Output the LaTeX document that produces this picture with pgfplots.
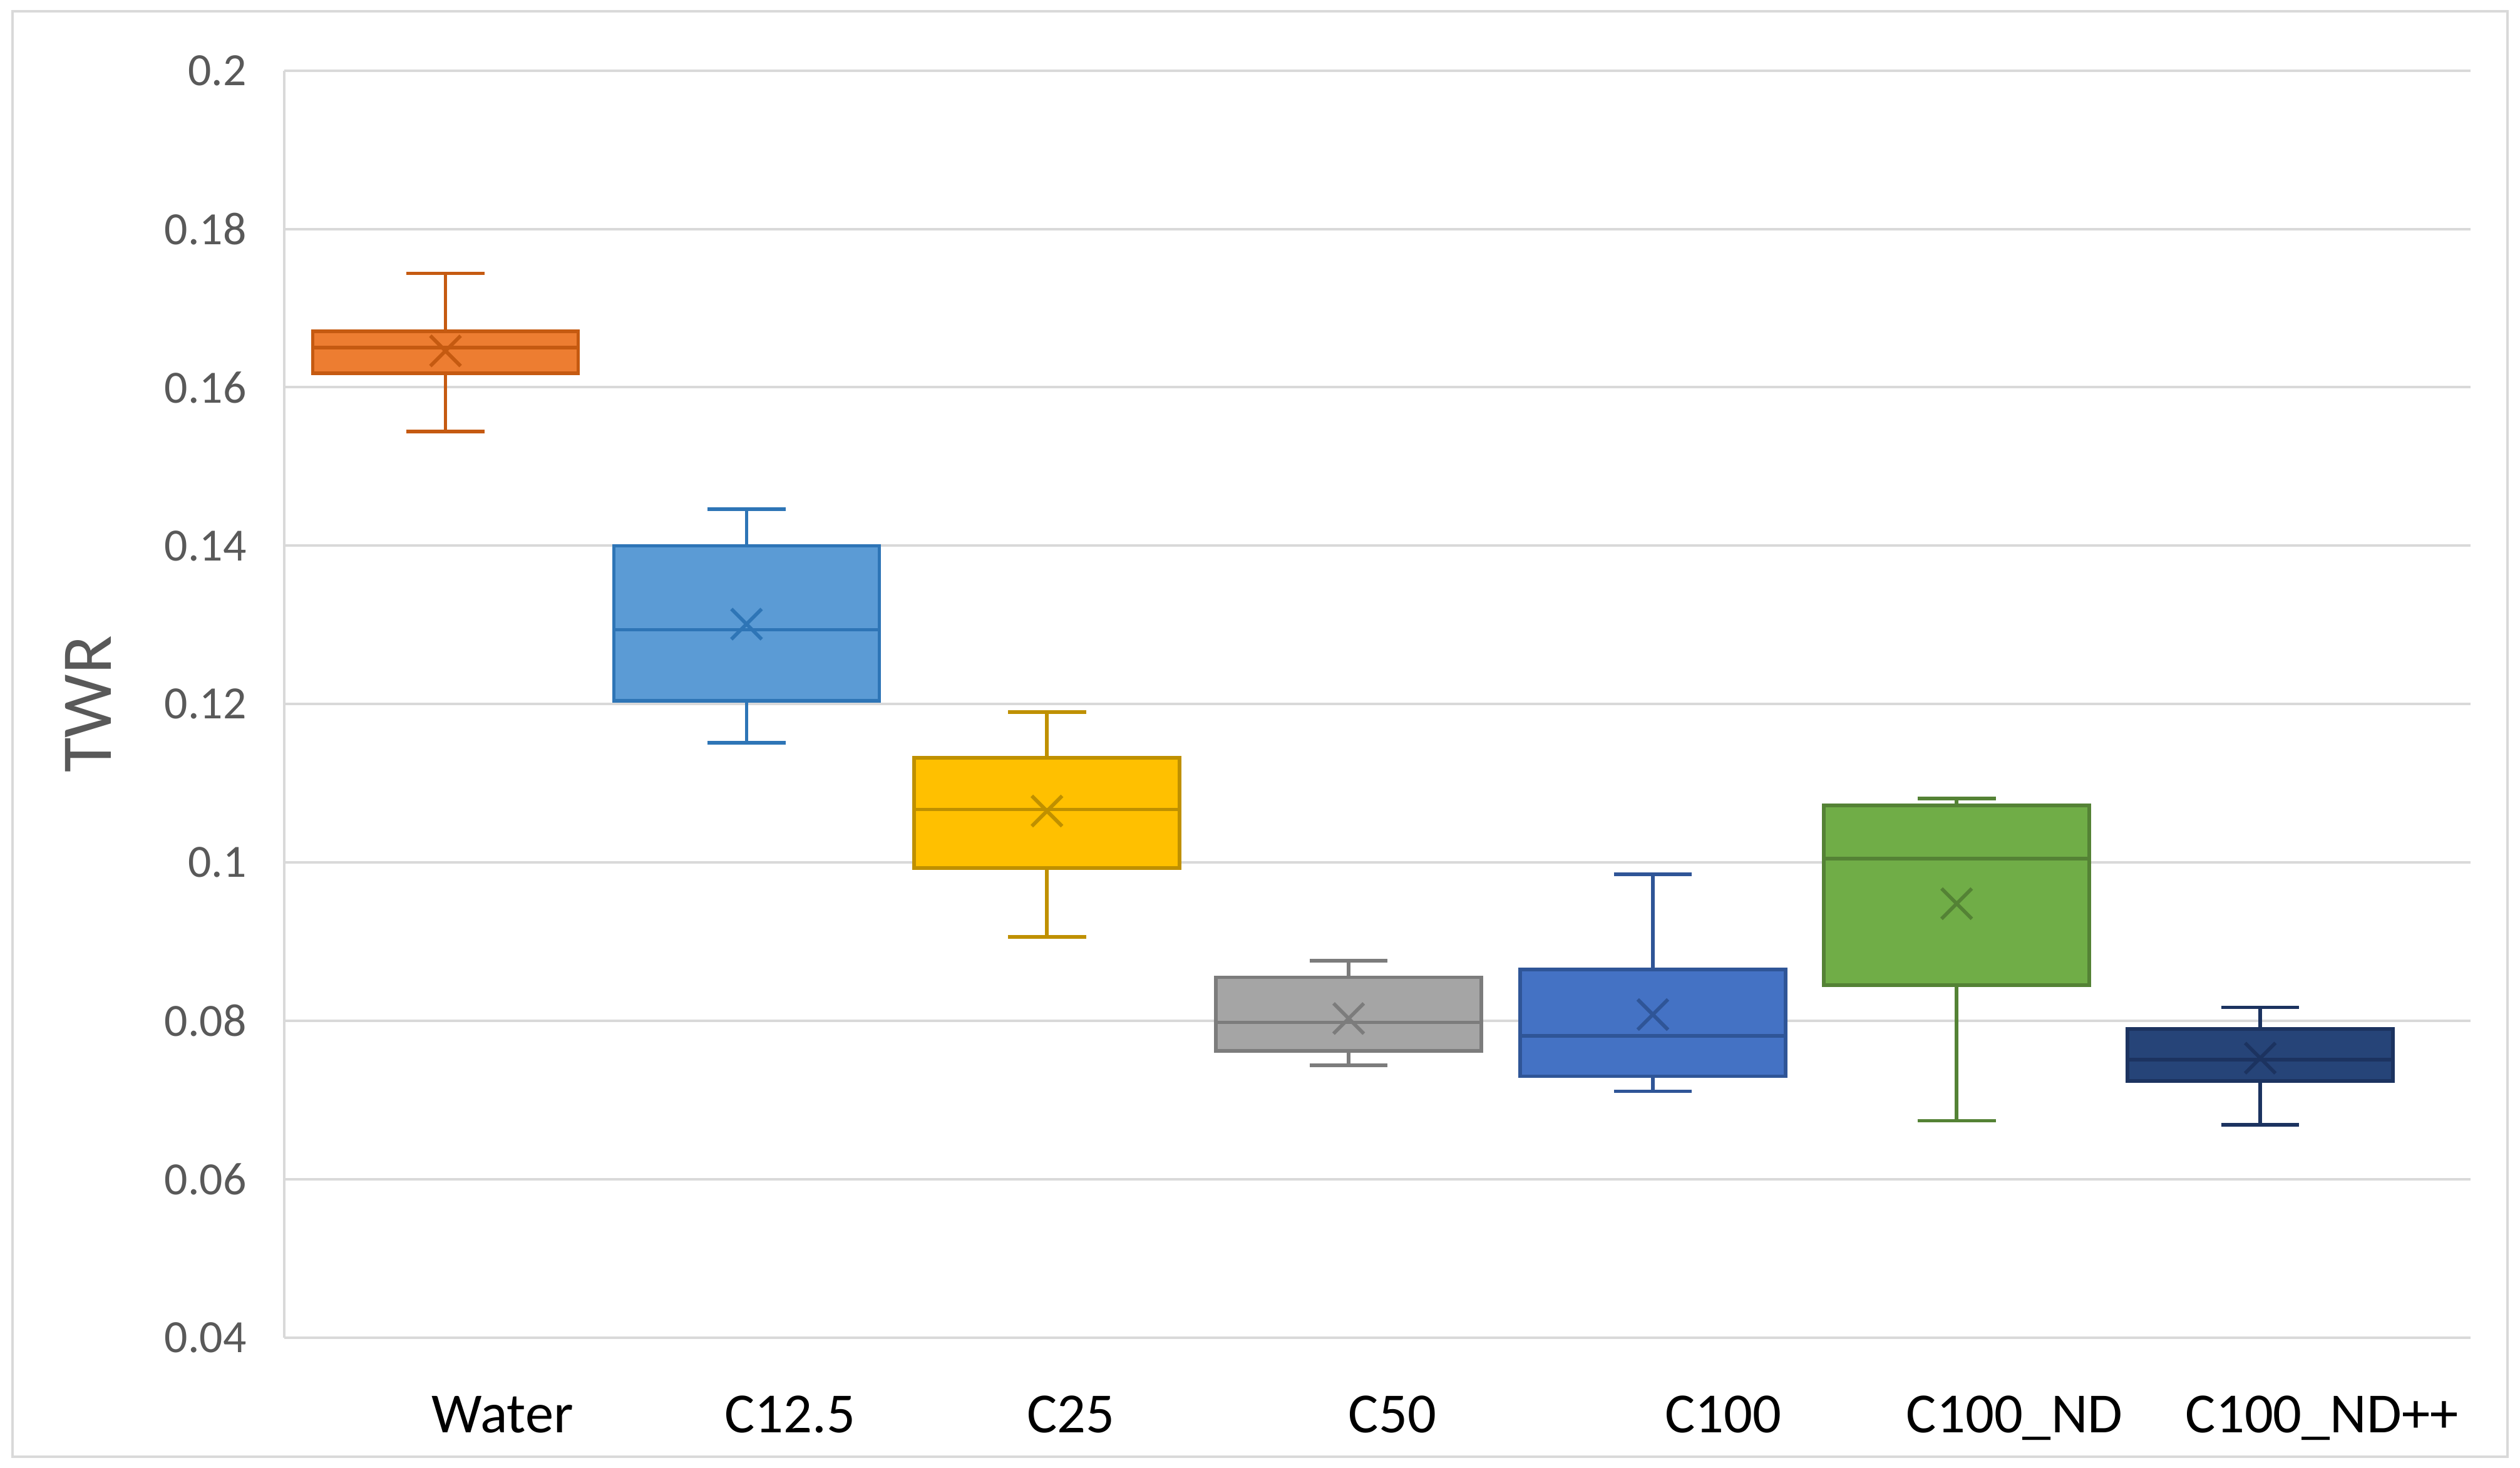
\documentclass[border=0pt]{standalone}
\usepackage{pgfplots}
\pgfplotsset{compat=1.18}
\usepgfplotslibrary{statistics}
\usepackage{fontspec}
\setmainfont{Carlito}
\definecolor{gridc}{HTML}{D9D9D9}
\definecolor{tickc}{HTML}{595959}
\definecolor{fA}{HTML}{ED7D31}\definecolor{bA}{HTML}{C55A11}
\definecolor{fB}{HTML}{5B9BD5}\definecolor{bB}{HTML}{2E75B6}
\definecolor{fC}{HTML}{FFC000}\definecolor{bC}{HTML}{BF9000}
\definecolor{fD}{HTML}{A5A5A5}\definecolor{bD}{HTML}{7C7C7C}
\definecolor{fE}{HTML}{4472C4}\definecolor{bE}{HTML}{2F5597}
\definecolor{fF}{HTML}{70AD47}\definecolor{bF}{HTML}{548235}
\definecolor{fG}{HTML}{264478}\definecolor{bG}{HTML}{1C3360}
\pgfplotsset{
  bx/.style 2 args={draw=#2, fill=#1, line width=0.85pt, solid,
    mark size=5.1pt,
    boxplot/draw direction=y,
    boxplot/box extend=0.85, boxplot/whisker extend=0.25,
    boxplot/every average/.style={/tikz/mark=x, /tikz/mark size=5.1pt,
      /tikz/mark options={draw=#2, line width=0.7pt}}}
}
\begin{document}
\begin{tikzpicture}
\path[use as bounding box] (0,0) rectangle (600pt,349.4pt);
\draw[gridc, line width=0.6pt] (3pt,2.7pt) rectangle (597pt,346.7pt);
\begin{axis}[
  at={(67.7pt,31pt)}, anchor=south west,
  scale only axis, width=520.5pt, height=301.6pt,
  xmin=0, xmax=7, ymin=0.04, ymax=0.2,
  axis lines*=left,
  axis line style={gridc, line width=0.6pt},
  major tick length=0pt,
  ytick={0.04,0.06,0.08,0.1,0.12,0.14,0.16,0.18,0.2},
  yticklabels={0.04,0.06,0.08,0.1,0.12,0.14,0.16,0.18,0.2},
  ymajorgrids, grid style={gridc, line width=0.6pt},
  yticklabel style={font=\fontsize{11}{13}\selectfont, text=tickc, anchor=east, inner sep=0pt, xshift=-8.8pt},
  xtick={0.699,1.619,2.518,3.548,4.607,5.54,6.525},
  xticklabels={Water,C12.5,C25,C50,C100,C100\_ND,C100\_ND++},
  xticklabel style={font=\fontsize{13.5}{16}\selectfont, text=black, anchor=base, inner sep=0pt, yshift=-22.6pt},
  ylabel={TWR},
  every axis y label/.style={at={(axis description cs:0,0.5)}, xshift=-46.7pt, rotate=90, anchor=center,
    font=\fontsize{17}{20}\selectfont, text=tickc, inner sep=0pt},
  clip=false,
]
\addplot[bx={fA}{bA}, boxplot prepared={draw position=0.516,
  lower whisker=0.1544, lower quartile=0.1618, median=0.1650,
  upper quartile=0.1671, upper whisker=0.1744, average=0.1646}] coordinates {};
\addplot[bx={fB}{bB}, boxplot prepared={draw position=1.480,
  lower whisker=0.1151, lower quartile=0.1204, median=0.1294,
  upper quartile=0.1400, upper whisker=0.1446, average=0.1301}] coordinates {};
\addplot[bx={fC}{bC}, boxplot prepared={draw position=2.442,
  lower whisker=0.0906, lower quartile=0.0993, median=0.1067,
  upper quartile=0.1132, upper whisker=0.1190, average=0.1065}] coordinates {};
\addplot[bx={fD}{bD}, boxplot prepared={draw position=3.408,
  lower whisker=0.0744, lower quartile=0.0762, median=0.0798,
  upper quartile=0.0855, upper whisker=0.0876, average=0.0803}] coordinates {};
\addplot[bx={fE}{bE}, boxplot prepared={draw position=4.382,
  lower whisker=0.0711, lower quartile=0.0730, median=0.0781,
  upper quartile=0.0865, upper whisker=0.0985, average=0.0808}] coordinates {};
\addplot[bx={fF}{bF}, boxplot prepared={draw position=5.355,
  lower whisker=0.0674, lower quartile=0.0845, median=0.1005,
  upper quartile=0.1072, upper whisker=0.1081, average=0.0948}] coordinates {};
\addplot[bx={fG}{bG}, boxplot prepared={draw position=6.327,
  lower whisker=0.0669, lower quartile=0.0724, median=0.0751,
  upper quartile=0.0790, upper whisker=0.0817, average=0.0753}] coordinates {};
\end{axis}
\end{tikzpicture}
\end{document}
